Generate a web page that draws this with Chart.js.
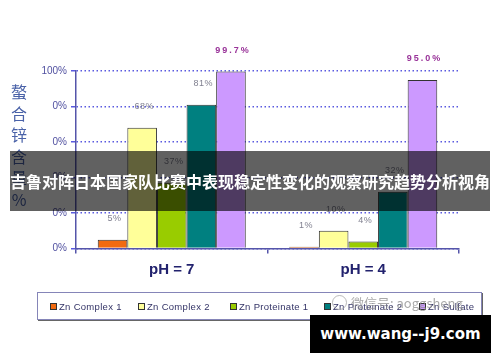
<!DOCTYPE html>
<html>
<head>
<meta charset="utf-8">
<script src="https://cdn.jsdelivr.net/npm/chart.js@4.4.0/dist/chart.umd.min.js"></script>
<style>
  html, body { margin: 0; padding: 0; background: #fff; }
  #wrap { position: relative; width: 500px; height: 362px; overflow: hidden; }
  #chart { position: absolute; left: 0; top: 0; }
  #legend {
    position: absolute; left: 37px; top: 292px; width: 443px; height: 26px;
    border: 1.5px solid #8585b8; box-shadow: 1px 1px 0 #666;
    background: #fff; font: 9.5px "Liberation Sans", Arial, sans-serif; color: #333366;
  }
  .item { position: absolute; top: 8px; white-space: nowrap; letter-spacing: 0.3px; }
  .item i { display: inline-block; width: 5px; height: 5px; border: 1px solid #333; margin-right: 2px; vertical-align: 0px; }
  #banner {
    position: absolute; left: 10px; top: 151px; width: 480px; height: 60px;
    background: rgba(0, 0, 0, 0.62); color: #fff;
    font: bold 16px "Noto Sans CJK SC", sans-serif; line-height: 60px; text-align: center;
    white-space: nowrap;
  }
  #wx {
    position: absolute; left: 332px; top: 293px; color: rgba(140, 140, 140, 0.75);
    font: 13px "Noto Sans CJK SC", sans-serif; white-space: nowrap;
  }
  #wx span { display: inline-block; width: 13px; height: 13px; border: 1.5px solid rgba(170,170,170,0.8); border-radius: 50%; margin-right: 4px; vertical-align: -2px; }
  #site {
    position: absolute; left: 310px; top: 315px; width: 181px; height: 38px;
    background: #000; color: #fff; text-align: center; white-space: nowrap;
    font: bold 15px "DejaVu Sans", sans-serif; line-height: 38px;
  }
</style>
</head>
<body>
<div id="wrap">
  <canvas id="chart" width="500" height="362"></canvas>
  <div id="legend"></div>
  <div id="wx"><span></span>微信号: aoggsheng</div>
  <div id="banner">吉鲁对阵日本国家队比赛中表现稳定性变化的观察研究趋势分析视角</div>
  <div id="site">www.wang--j9.com</div>
</div>
<script>
// chart values
const categories = ["pH = 7", "pH = 4"];
const seriesNames = ["Zn Complex 1", "Zn Complex 2", "Zn Proteinate 1", "Zn Proteinate 2", "Zn Sulfate"];
const complex1 = [5, 1];
const complex2 = [68, 10];
const proteinate1 = [37, 4];
const proteinate2 = [81, 32];
const sulfate = [99.7, 95.0];
const yTickLabels = ["0%", "0%", "0%", "0%", "0%", "100%"];
const yTitleChars = ["螯", "合", "锌", "含", "量", "%"];

const colors = ["#f26a10", "#ffff99", "#99cc00", "#008080", "#cc99ff"];
const allSeries = [complex1, complex2, proteinate1, proteinate2, sulfate];

// legend built from the same arrays
const legendX = [12, 100, 192, 286, 381];
const legendEl = document.getElementById("legend");
seriesNames.forEach((name, i) => {
  const d = document.createElement("div");
  d.className = "item";
  d.style.left = legendX[i] + "px";
  d.innerHTML = `<i style="background:${colors[i]}"></i>${name}`;
  legendEl.appendChild(d);
});

// Y title stacked + value labels above bars
const extras = {
  id: "extras",
  afterDraw(chart) {
    const ctx = chart.ctx;
    ctx.save();
    ctx.fillStyle = "#4a62a8";
    ctx.font = "16px 'Noto Sans CJK SC'";
    ctx.textAlign = "center";
    ctx.textBaseline = "middle";
    yTitleChars.forEach((ch, i) => ctx.fillText(ch, 19, 92 + i * 21.5));

    chart.data.datasets.forEach((ds, di) => {
      const meta = chart.getDatasetMeta(di);
      meta.data.forEach((bar, j) => {
        const v = ds.data[j];
        const last = di === allSeries.length - 1;
        ctx.font = last ? "bold 9px 'Liberation Sans'" : "9px 'Liberation Sans'";
        ctx.fillStyle = last ? "#993399" : "#808090";
        ctx.letterSpacing = last ? "2px" : "0.5px";
        const txt = last ? v.toFixed(1) + "%" : Math.round(v) + "%";
        ctx.fillText(txt, bar.x + 2, bar.y - 21);
      });
    });
    ctx.restore();
  }
};

new Chart(document.getElementById("chart"), {
  type: "bar",
  data: {
    labels: categories,
    datasets: seriesNames.map((name, i) => ({
      label: name,
      data: allSeries[i],
      backgroundColor: colors[i],
      borderColor: "#333",
      borderWidth: 1,
      categoryPercentage: 0.773,
      barPercentage: 1.0
    }))
  },
  options: {
    responsive: false,
    animation: false,
    layout: { padding: { top: 71, right: 41, left: 0, bottom: 0 } },
    plugins: { legend: { display: false }, tooltip: { enabled: false } },
    scales: {
      x: {
        afterFit: s => { s.height = 113.5; },
        grid: { drawOnChartArea: false, drawTicks: true, tickLength: 5, color: "#5555aa", lineWidth: 1.5 },
        border: { color: "#5555aa", width: 1.5 },
        ticks: { color: "#22226e", font: { family: "Liberation Sans", size: 15, weight: "bold" }, padding: 7 }
      },
      y: {
        min: 0,
        max: 100,
        afterFit: s => { s.width = 76; },
        grid: { color: "#5a5ae0", lineWidth: 1.5, tickLength: 5, tickBorderDash: [1, 0] },
        border: { color: "#5555aa", width: 1.5, dash: [1.5, 2.5] },
        ticks: {
          stepSize: 20,
          padding: 4,
          color: "#5050a0",
          font: { family: "Liberation Sans", size: 10 },
          callback: (v, i) => yTickLabels[i]
        }
      }
    }
  },
  plugins: [extras]
});
</script>
</body>
</html>
